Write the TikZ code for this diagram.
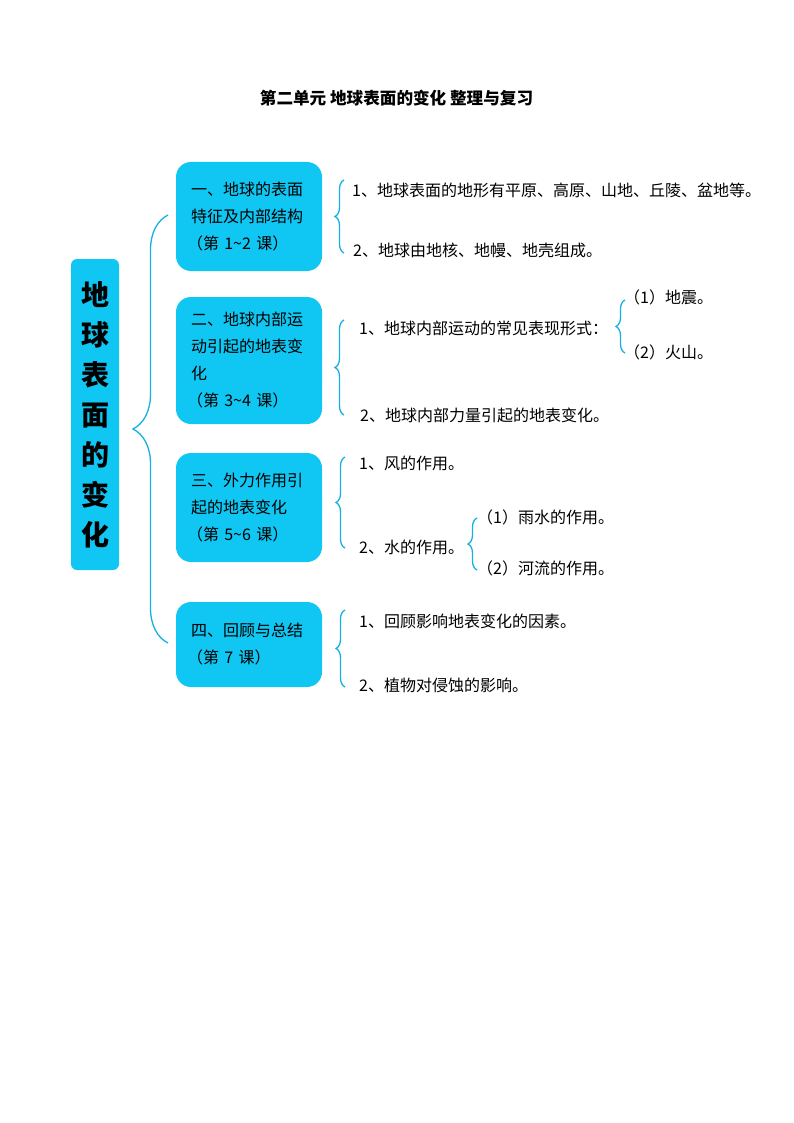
\documentclass[tikz,border=0pt]{standalone}
\usepackage{fontspec}
\setmainfont{Noto Sans CJK SC}
\usetikzlibrary{decorations.pathreplacing}
\definecolor{cy}{RGB}{16,198,242}
\definecolor{brc}{RGB}{22,176,226}
\begin{document}
\begin{tikzpicture}[x=1pt,y=-1pt,
  box/.style={fill=cy, draw=none, rounded corners=15pt, text width=116pt, inner xsep=15pt, inner ysep=0pt, align=left,
    font=\fontsize{16}{27}\selectfont, minimum width=146pt},
  mainbox/.style={fill=cy, draw=none, rounded corners=6pt, minimum width=48pt, minimum height=311pt, align=center,
    font=\fontsize{28}{40}\selectfont\bfseries, inner sep=0pt},
  item/.style={anchor=west, inner sep=0pt, font=\fontsize{16}{18}\selectfont},
  bracefx/.style={draw=brc, line width=1.3pt, decorate, decoration={brace, amplitude=#1}},
]
\useasboundingbox (0,0) rectangle (794,1123);
\node[inner sep=0pt, font=\fontsize{16.6}{20}\selectfont\bfseries] (title) at (396.5,98) {第二单元 地球表面的变化 整理与复习};

\node[mainbox] (main) at (95,414.5) {地\\球\\表\\面\\的\\变\\化};

\node[box, minimum height=109pt] (b1) at (249,216.5) {一、地球的表面\\特征及内部结构\\\hspace*{-4pt}（第 1\textasciitilde2 课）};
\node[box, minimum height=127pt] (b2) at (249,360.5) {二、地球内部运\\动引起的地表变\\化\\\hspace*{-4pt}（第 3\textasciitilde4 课）};
\node[box, minimum height=109pt] (b3) at (249,507.5) {三、外力作用引\\起的地表变化\\\hspace*{-4pt}（第 5\textasciitilde6 课）};
\node[box, minimum height=85pt] (b4) at (249,644.5) {四、回顾与总结\\\hspace*{-4pt}（第 7 课）};

% big brace
\coordinate (bbt) at (168,215);
\coordinate (bbb) at (168,643);
\draw[bracefx=35pt] (bbb) -- (bbt);

% items
\node[item] (i1a) at (352,190) {1、地球表面的地形有平原、高原、山地、丘陵、盆地等。};
\node[item] (i1b) at (353,250) {2、地球由地核、地幔、地壳组成。};
\node[item] (i2a) at (359,328) {1、地球内部运动的常见表现形式：};
\node[item] (i2a1) at (624,297) {（1）地震。};
\node[item] (i2a2) at (624,352) {（2）火山。};
\node[item] (i2b) at (360,415) {2、地球内部力量引起的地表变化。};
\node[item] (i3a) at (359,463) {1、风的作用。};
\node[item] (i3b) at (359,547) {2、水的作用。};
\node[item] (i3b1) at (477,517) {（1）雨水的作用。};
\node[item] (i3b2) at (477,568) {（2）河流的作用。};
\node[item] (i4a) at (359,621) {1、回顾影响地表变化的因素。};
\node[item] (i4b) at (359,685) {2、植物对侵蚀的影响。};

% braces
\coordinate (r1t) at (344,180); \coordinate (r1b) at (344,253);
\draw[bracefx=9pt] (r1b) -- (r1t);
\coordinate (r2t) at (344,320); \coordinate (r2b) at (344,415);
\draw[bracefx=9pt] (r2b) -- (r2t);
\coordinate (s2t) at (625,300); \coordinate (s2b) at (625,353);
\draw[bracefx=9pt] (s2b) -- (s2t);
\coordinate (r3t) at (345,457); \coordinate (r3b) at (345,548);
\draw[bracefx=9pt] (r3b) -- (r3t);
\coordinate (s3t) at (477,518); \coordinate (s3b) at (477,570);
\draw[bracefx=9pt] (s3b) -- (s3t);
\coordinate (r4t) at (345,610); \coordinate (r4b) at (345,687);
\draw[bracefx=9pt] (r4b) -- (r4t);
\end{tikzpicture}
\end{document}
